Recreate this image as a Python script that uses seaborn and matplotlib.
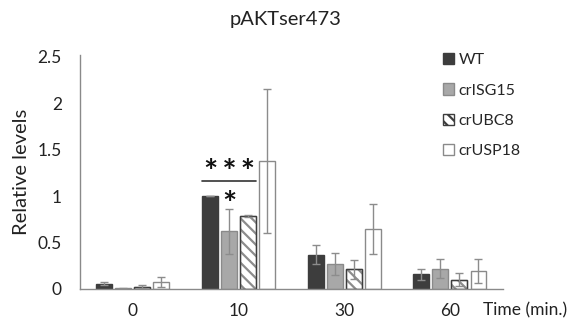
import numpy as np
import pandas as pd
import matplotlib
matplotlib.use("Agg")
import matplotlib.pyplot as plt
import matplotlib.patches as mpatches
import seaborn as sns

times = ["0", "10", "30", "60"]
genotypes = ["WT", "crISG15", "crUBC8", "crUSP18"]
wt = [0.055, 1.0, 0.37, 0.16]
wt_err = [0.015, 0.0, 0.10, 0.06]
isg15 = [0.01, 0.62, 0.27, 0.22]
isg15_err = [0.005, 0.24, 0.12, 0.10]
ubc8 = [0.025, 0.79, 0.21, 0.10]
ubc8_err = [0.015, 0.01, 0.10, 0.07]
usp18 = [0.075, 1.38, 0.65, 0.19]
usp18_err = [0.05, 0.78, 0.27, 0.13]

values = [wt, isg15, ubc8, usp18]
errors = [wt_err, isg15_err, ubc8_err, usp18_err]

rows = []
for g, vals in zip(genotypes, values):
    for t, v in zip(times, vals):
        rows.append({"time": t, "genotype": g, "value": v})
df = pd.DataFrame(rows)

sns.set_theme(style="white")
plt.rcParams["font.family"] = ["Lato", "DejaVu Sans"]
plt.rcParams["hatch.linewidth"] = 1.6

fig = plt.figure(figsize=(5.74, 3.28), dpi=100)
ax = fig.add_axes([0.139, 0.119, 0.737, 0.713])

face = {"WT": "#3d3d3d", "crISG15": "#a8a8a8", "crUBC8": "#ffffff", "crUSP18": "#ffffff"}
edge = {"WT": "#3d3d3d", "crISG15": "#8a8a8a", "crUBC8": "#4a4a4a", "crUSP18": "#8a8a8a"}

sns.barplot(data=df, x="time", y="value", hue="genotype", order=times,
            hue_order=genotypes, palette=face, errorbar=None, width=0.72,
            legend=False, ax=ax)

for i, (cont, g) in enumerate(zip(ax.containers, genotypes)):
    for j, bar in enumerate(cont):
        w = bar.get_width()
        xc = bar.get_x() + w / 2
        nw = w * 0.84
        bar.set_x(xc - nw / 2)
        bar.set_width(nw)
        bar.set_facecolor(face[g])
        bar.set_edgecolor(edge[g])
        bar.set_linewidth(1.0)
        if g == "crUBC8":
            bar.set_hatch("\\\\\\")
            bar.set_edgecolor("#8c8c8c")
        ax.errorbar(xc, values[i][j], yerr=errors[i][j], fmt="none",
                    ecolor="#8c8c8c", elinewidth=1.0, capsize=3, capthick=1.0, zorder=3)
    if g == "crUBC8":
        for bar in cont:
            ax.add_patch(mpatches.Rectangle((bar.get_x(), 0), bar.get_width(), bar.get_height(),
                                            fill=False, edgecolor="#3d3d3d", linewidth=1.0, zorder=2.5))

ax.set_ylim(0, 2.52)
ax.set_xlim(-0.5, 3.5)
ax.set_yticks([0, 0.5, 1, 1.5, 2, 2.5])
ax.set_yticklabels(["0", "0.5", "1", "1.5", "2", "2.5"])
ax.tick_params(axis="y", length=0, pad=13, labelsize=12.5, colors="#222222")
ax.tick_params(axis="x", length=0, pad=10, labelsize=12.5, colors="#222222")
ax.set_xlabel("")
ax.set_ylabel("Relative levels", fontsize=14.5, color="#222222")
ax.yaxis.set_label_coords(-0.118, 0.5)
for s in ["top", "right"]:
    ax.spines[s].set_visible(False)
for s in ["left", "bottom"]:
    ax.spines[s].set_color("#8a8a8a")
    ax.spines[s].set_linewidth(1.0)

# significance annotations
wt_bar = ax.containers[0][1]
ubc_bar = ax.containers[2][1]
isg_bar = ax.containers[1][1]
x0 = wt_bar.get_x()
x1 = ubc_bar.get_x() + ubc_bar.get_width()
ax.plot([x0, x1], [1.16, 1.16], color="#333333", lw=1.2)
ax.text((x0 + x1) / 2 + 0.01, 1.24, "*\u2009*\u2009*", ha="center", va="center", fontsize=24,
        color="#111111", fontweight="bold")
ax.text(isg_bar.get_x() + isg_bar.get_width() / 2, 0.90, "*", ha="center", va="center",
        fontsize=24, color="#111111", fontweight="bold")

handles = []
for g in genotypes:
    p = mpatches.Patch(facecolor=face[g], edgecolor=edge[g] if g != "crUBC8" else "#3d3d3d",
                       hatch="\\\\\\" if g == "crUBC8" else None, label=g)
    handles.append(p)
leg = ax.legend(handles=handles, loc="upper left", bbox_to_anchor=(0.843, 1.035),
                frameon=False, fontsize=11.5, handlelength=0.7, handleheight=0.7,
                handletextpad=0.3, labelspacing=1.0, borderaxespad=0)

fig.text(0.497, 0.94, "pAKTser473", ha="center", va="center", fontsize=14.5, color="#222222")
fig.text(0.842, 0.055, "Time (min.)", ha="left", va="center", fontsize=12.5, color="#222222")

fig.savefig("out.png", dpi=100)
